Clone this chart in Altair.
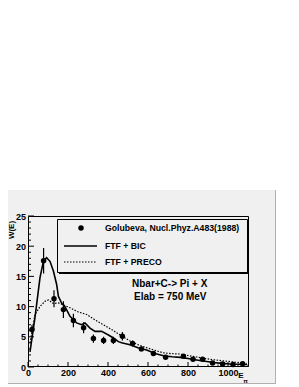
import altair as alt
import pandas as pd

# ---- data ----
exp_E = [20, 78, 130, 177, 227, 278, 327, 378, 427, 472, 523, 567, 627, 688, 777, 825, 873, 923, 973, 1025, 1073]
exp_W = [6.2, 17.6, 11.3, 9.5, 7.7, 6.5, 4.7, 4.4, 4.4, 5.1, 3.9, 3.0, 2.25, 1.6, 1.8, 1.3, 1.3, 0.65, 0.5, 0.4, 0.55]
exp_err = [0.75, 2.1, 1.4, 1.4, 1.1, 0.9, 0.7, 0.6, 0.6, 0.7, 0.5, 0.4, 0.3, 0.3, 0.3, 0.25, 0.25, 0.2, 0.2, 0.2, 0.2]

bic_E = [10, 35, 60, 77, 93, 110, 127, 143, 152, 168, 185, 210, 243, 268, 285, 310, 335, 368, 402, 427, 452, 468,
         510, 550, 593, 640, 677, 720, 760, 800, 843, 885, 927, 970, 1010, 1050, 1095]
bic_W = [2.5, 8.2, 14.8, 17.5, 18.1, 17.5, 15.9, 13.7, 11.7, 10.6, 10.0, 8.4, 7.3, 7.0, 7.3, 6.45, 5.9, 5.9, 5.3, 4.8, 4.2, 4.0,
         3.7, 3.2, 2.8, 2.2, 1.85, 1.7, 1.6, 1.4, 1.17, 0.95, 0.75, 0.6, 0.5, 0.45, 0.42]

preco_E = [10, 35, 60, 85, 102, 127, 152, 177, 210, 252, 293, 335, 377, 418, 468,
           510, 550, 593, 640, 677, 720, 760, 800, 843, 885, 927, 970, 1010, 1050, 1095]
preco_W = [4.0, 8.7, 10.0, 10.9, 11.1, 10.5, 10.6, 10.3, 9.8, 9.1, 8.7, 7.8, 7.0, 6.2, 5.15,
           4.3, 3.7, 3.2, 2.7, 2.35, 2.2, 2.15, 1.9, 1.65, 1.4, 1.2, 1.05, 0.9, 0.75, 0.6]

x_major = [0, 200, 400, 600, 800, 1000]
x_minor = [50, 100, 150, 250, 300, 350, 450, 500, 550, 650, 700, 750, 850, 900, 950, 1050, 1100]
y_major = [0, 5, 10, 15, 20, 25]
y_minor = [1, 2, 3, 4, 6, 7, 8, 9, 11, 12, 13, 14, 16, 17, 18, 19, 21, 22, 23, 24]

legend_labels = ["Golubeva, Nucl.Phyz.A483(1988)", "FTF + BIC", "FTF + PRECO"]
annotation = ["Nbar+C-> Pi + X", "Elab = 750 MeV"]
y_title = "W(E)"
x_title = "E"
x_title_sub = "π"

FONT = "Liberation Sans"
W, H = 221, 151

xs = alt.Scale(domain=[0, 1105], nice=False, zero=False)
ys = alt.Scale(domain=[0, 25], nice=False, zero=False)

xaxis = alt.Axis(values=x_major, format="d", ticks=False, domain=False, grid=False, title=None,
                 labelFont=FONT, labelFontSize=9, labelFontWeight="bold", labelColor="black",
                 labelPadding=1, labelFlush=False, labelOverlap=False, zindex=2)
yaxis = alt.Axis(values=y_major, format="d", ticks=False, domain=False, grid=False, title=None,
                 labelFont=FONT, labelFontSize=9, labelFontWeight="bold", labelColor="black",
                 labelPadding=2.5, labelFlush=False, labelOverlap=False, zindex=2)

def X(f):
    return alt.X(f, scale=xs, axis=xaxis)

def Y(f):
    return alt.Y(f, scale=ys, axis=yaxis)

exp = pd.DataFrame({"E": exp_E, "W": exp_W,
                    "lo": [w - e for w, e in zip(exp_W, exp_err)],
                    "hi": [w + e for w, e in zip(exp_W, exp_err)]})
bic = pd.DataFrame({"E": bic_E, "W": bic_W})
preco = pd.DataFrame({"E": preco_E, "W": preco_W})
one = pd.DataFrame({"a": [0]})

# canvas background
canvas = alt.Chart(one).mark_rect(fill="#f0f0f0", stroke=None).encode(
    x=alt.value(-20), x2=alt.value(248), y=alt.value(-26), y2=alt.value(168))
edge_r = alt.Chart(one).mark_rule(color="#b0b0b0", strokeWidth=1).encode(
    x=alt.value(247.5), y=alt.value(-26), y2=alt.value(168))
edge_b = alt.Chart(one).mark_rule(color="#b0b0b0", strokeWidth=1).encode(
    x=alt.value(-20), x2=alt.value(248), y=alt.value(167.5))

# tick marks pointing inward
xt_major = alt.Chart(pd.DataFrame({"x": x_major})).mark_rule(color="black", strokeWidth=1).encode(
    x=X("x:Q"), y=alt.value(H), y2=alt.value(H - 5))
xt_minor = alt.Chart(pd.DataFrame({"x": x_minor})).mark_rule(color="black", strokeWidth=1).encode(
    x=X("x:Q"), y=alt.value(H), y2=alt.value(H - 2.5))
yt_major = alt.Chart(pd.DataFrame({"y": y_major})).mark_rule(color="black", strokeWidth=1).encode(
    y=Y("y:Q"), x=alt.value(0), x2=alt.value(6))
yt_minor = alt.Chart(pd.DataFrame({"y": y_minor})).mark_rule(color="black", strokeWidth=1).encode(
    y=Y("y:Q"), x=alt.value(0), x2=alt.value(3))

frame = alt.Chart(one).mark_rect(fill=None, stroke="black", strokeWidth=1).encode(
    x=alt.value(0.5), x2=alt.value(W - 0.5), y=alt.value(0.5), y2=alt.value(H - 0.5))

# curves
bic_line = alt.Chart(bic).mark_line(color="black", strokeWidth=1.6).encode(
    x=X("E:Q"), y=Y("W:Q"))
preco_line = alt.Chart(preco).mark_line(color="black", strokeWidth=1.2, strokeDash=[1.5, 1.5]).encode(
    x=X("E:Q"), y=Y("W:Q"))

# data points
errbars = alt.Chart(exp).mark_rule(color="black", strokeWidth=1.2).encode(
    x=X("E:Q"), y=Y("lo:Q"), y2="hi:Q")
points = alt.Chart(exp).mark_circle(color="black", size=30, opacity=1).encode(
    x=X("E:Q"), y=Y("W:Q"))

# legend
leg_shadow = alt.Chart(one).mark_rect(fill="black").encode(
    x=alt.value(31), x2=alt.value(221), y=alt.value(5), y2=alt.value(58))
leg_box = alt.Chart(one).mark_rect(fill="#f0f0f0", stroke="black", strokeWidth=1).encode(
    x=alt.value(29.5), x2=alt.value(219.5), y=alt.value(3.5), y2=alt.value(56.5))
leg_pt = alt.Chart(one).mark_circle(color="black", size=30, opacity=1).encode(
    x=alt.value(53), y=alt.value(12))
leg_solid = alt.Chart(one).mark_rule(color="black", strokeWidth=1.6).encode(
    x=alt.value(36), x2=alt.value(69), y=alt.value(30))
leg_dot = alt.Chart(one).mark_rule(color="black", strokeWidth=1.2, strokeDash=[1.5, 1.5]).encode(
    x=alt.value(36), x2=alt.value(69), y=alt.value(46))

def txt(s, x, y, size=9, align="left", angle=0):
    kw = dict(text=s, align=align, baseline="middle", font=FONT, fontSize=size,
              fontWeight="bold", color="black")
    if angle:
        kw["angle"] = angle
    return alt.Chart(one).mark_text(**kw).encode(x=alt.value(x), y=alt.value(y))

texts = [
    txt(legend_labels[0], 77, 12, size=8.7),
    txt(legend_labels[1], 77, 30, size=8.7),
    txt(legend_labels[2], 77, 46, size=8.7),
    txt(annotation[0], 104, 68, size=10),
    txt(annotation[1], 106, 81, size=10),
    txt(y_title, -16, 14, size=8, align="center", angle=270),
    txt(x_title, 213, 160, size=8, align="center"),
    txt(x_title_sub, 217.5, 165, size=6, align="center"),
]

chart = alt.layer(
    canvas, edge_r, edge_b,
    xt_major, xt_minor, yt_major, yt_minor,
    preco_line, bic_line, errbars, points,
    leg_shadow, leg_box, leg_pt, leg_solid, leg_dot,
    frame, *texts
).properties(
    width=W, height=H,
    padding={"left": 20, "top": 208, "right": 30, "bottom": 20},
    autosize=alt.AutoSizeParams(type="none"),
    background="white",
).configure_view(stroke=None, fill=None)

chart.save("out.html", embed_options={"renderer": "svg", "actions": False})
